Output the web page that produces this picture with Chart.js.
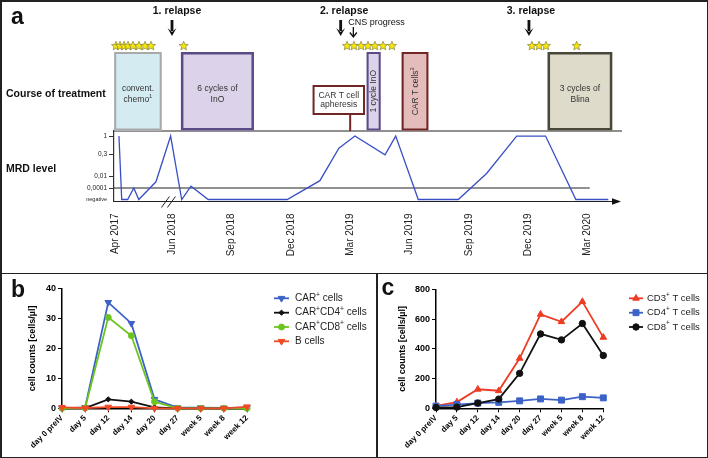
<!DOCTYPE html>
<html><head><meta charset="utf-8">
<script src="https://cdn.jsdelivr.net/npm/chart.js@4.4.1/dist/chart.umd.min.js"></script>
<style>
html,body{margin:0;padding:0;background:#fff;}
#fig{position:relative;width:708px;height:458px;overflow:hidden;background:#fff;}
#fig canvas{position:absolute;}
.rule{position:absolute;background:#222;}
</style></head><body>
<div id="fig">
<canvas id="ca" width="708" height="273" style="left:0;top:0"></canvas>
<canvas id="cb" width="377" height="185" style="left:0;top:273px"></canvas>
<canvas id="cc" width="331" height="185" style="left:377px;top:273px"></canvas>
<div class="rule" style="left:0;top:0;width:708px;height:1.5px"></div>
<div class="rule" style="left:0;top:456.5px;width:708px;height:1.5px"></div>
<div class="rule" style="left:0;top:0;width:1.5px;height:458px"></div>
<div class="rule" style="left:706.5px;top:0;width:1.5px;height:458px"></div>
<div class="rule" style="left:0;top:272.5px;width:708px;height:1.5px"></div>
<div class="rule" style="left:376px;top:273px;width:1.5px;height:185px"></div>
</div>
<script>
// ===================== DATA =====================
// Panel a: MRD course (x = months relative to Jun 2018, the period before the axis break is compressed)
const mrdMonths = [-2.68,-2.54,-2.24,-1.93,-1.68,-0.81,-0.07,0.49,0.96,1.83,5.82,7.47,8.43,9.24,10.76,11.3,12.44,14.46,15.89,17.41,18.87,20.4,22.04];
const mrdValues = [1,0,0,0.0001,0,0.0011,1,0,0.0002,0,0,0.0017,0.45,1,0.28,1,0,0,0.015,1,1,0,0]; // 0 = negative
const mrdTickValues = [0,0.0001,0.01,0.3,1];
const mrdTickLabels = ['negative','0,0001','0,01','0,3','1'];
const mrdThreshold = 0.0001;
const mrdThresholdEnd = 21.1;
const dateTickMonths = [-2.85,0,3,6,9,12,15,18,21];
const dateTickLabels = ['Apr 2017','Jun 2018','Sep 2018','Dec 2018','Mar 2019','Jun 2019','Sep 2019','Dec 2019','Mar 2020'];
const treatmentNames = ['convent.\nchemo¹','6 cycles of\nInO','1 cycle InO','CAR T cells²','3 cycles of\nBlina'];
const treatmentStart = [-2.92,0.45,9.83,11.6,18.97];
const treatmentEnd = [-0.52,4.14,10.54,12.95,22.24];
const apheresisName = 'CAR T cell\napheresis';
const apheresisMonth = 9.0;
const starMonths = [-2.83,-2.63,-2.42,-2.22,-1.97,-1.67,-1.36,-1.06,0.59,
                    8.84,9.19,9.55,9.9,10.25,10.66,11.11,18.18,18.54,18.89,20.44];
const relapseLabels = ['1. relapse','2. relapse','3. relapse'];
const relapseMonths = [0,8.52,18.03];
const cnsLabel = 'CNS progress';
const cnsMonth = 9.16;
const breakMonth = -0.18;

// Panels b and c
const categories = ['day 0 preIV','day 5','day 12','day 14','day 20','day 27','week 5','week 8','week 12'];
const carCells    = [0, 0.3, 35.3, 28.3, 3.0, 0.2, 0.2, 0.1, 0.2];
const carCd4Cells = [0, 0.1, 3.0, 2.2, 0.3, 0, 0, 0, 0];
const carCd8Cells = [0, 0.1, 30.3, 24.2, 2.2, 0, 0, 0, 0];
const bCells      = [0.3, 0.1, 0.4, 0.4, 0, 0, 0, 0, 0.5];
const cd3Cells = [17, 42, 128, 118, 336, 632, 582, 717, 477];
const cd4Cells = [15, 25, 35, 40, 50, 63, 55, 78, 70];
const cd8Cells = [5, 8, 35, 62, 235, 500, 460, 570, 355];

// ===================== STYLE / HELPERS =====================
const FAM = "'Liberation Sans', Arial, Helvetica, sans-serif";
const SUP = {'⁺':'+','¹':'1','²':'2'};
function runs(text){
  const out=[]; let cur='', sup=false;
  for (const ch of text){
    const s = ch in SUP;
    if (s!==sup && cur){ out.push({t:cur,sup}); cur=''; }
    sup = s; cur += s ? SUP[ch] : ch;
  }
  if (cur) out.push({t:cur,sup});
  return out;
}
function richWidth(ctx,text,size,weight){
  let w=0;
  for (const r of runs(text)){ ctx.font = `${weight} ${r.sup?size*0.68:size}px ${FAM}`; w += ctx.measureText(r.t).width; }
  return w;
}
function drawRich(ctx,text,x,y,size,weight,align){
  const w = richWidth(ctx,text,size,weight);
  let cx = align==='center' ? x-w/2 : align==='right' ? x-w : x;
  ctx.textAlign='left'; ctx.textBaseline='middle';
  for (const r of runs(text)){
    ctx.font = `${weight} ${r.sup?size*0.68:size}px ${FAM}`;
    ctx.fillText(r.t, cx, r.sup ? y-size*0.35 : y);
    cx += ctx.measureText(r.t).width;
  }
}
function drawStar(ctx,cx,cy,R,r){
  ctx.beginPath();
  for (let i=0;i<10;i++){
    const a=-Math.PI/2+i*Math.PI/5, rad=i%2?r:R;
    ctx.lineTo(cx+rad*Math.cos(a), cy+rad*Math.sin(a));
  }
  ctx.closePath(); ctx.fill(); ctx.stroke();
}
function thickArrow(ctx,x,y0,y1){
  ctx.fillStyle='#111';
  ctx.fillRect(x-1.4,y0,2.8,y1-y0-5);
  ctx.beginPath(); ctx.moveTo(x-4.5,y1-8); ctx.lineTo(x,y1-4); ctx.lineTo(x+4.5,y1-8); ctx.lineTo(x,y1); ctx.closePath(); ctx.fill();
}

// ---- MRD axis: piecewise log mapping between tick anchors ----
const ANCHOR_POS = [0,1,2.04,3.93,5.52];
function mrdAxis(v){
  if (v<=0) return 0;
  const L=Math.log10(v);
  for (let i=1;i<mrdTickValues.length-1;i++){
    if (v<=mrdTickValues[i+1] || i===mrdTickValues.length-2){
      const a=Math.log10(mrdTickValues[i]), b=Math.log10(mrdTickValues[i+1]);
      return ANCHOR_POS[i]+(L-a)/(b-a)*(ANCHOR_POS[i+1]-ANCHOR_POS[i]);
    }
  }
}

const treatmentStyle = [
  {fill:'#d4ecf1', stroke:'#a9a9a9', lw:2,   vertical:false},
  {fill:'#dcd3ea', stroke:'#5a4a86', lw:2.5, vertical:false},
  {fill:'#dcd3ea', stroke:'#5a4a86', lw:2,   vertical:true},
  {fill:'#e3bcbb', stroke:'#702626', lw:2,   vertical:true},
  {fill:'#dedbca', stroke:'#48473a', lw:2.5, vertical:false}
];
const apheresisBox = {from:7.1, to:9.75, top:85, bottom:115};

const timelinePlugin = {
  id:'timeline',
  afterDraw(chart){
    const {ctx, chartArea:ca, scales:{x}} = chart;
    ctx.save();
    // panel letter and row labels
    ctx.fillStyle='#111';
    ctx.font=`bold 23px ${FAM}`; ctx.textAlign='left'; ctx.textBaseline='alphabetic';
    ctx.fillText('a',11,23.5);
    ctx.font=`bold 10.5px ${FAM}`; ctx.textBaseline='middle';
    ctx.fillText('Course of treatment',6,94);
    ctx.fillText('MRD level',6,169);
    // treatment baseline
    ctx.strokeStyle='#222'; ctx.lineWidth=1.2;
    ctx.beginPath(); ctx.moveTo(ca.left-1,ca.top); ctx.lineTo(ca.right+1,ca.top); ctx.stroke();
    // x axis with arrow
    ctx.beginPath(); ctx.moveTo(ca.left,ca.bottom); ctx.lineTo(ca.right-6,ca.bottom); ctx.stroke();
    ctx.fillStyle='#111';
    ctx.beginPath(); ctx.moveTo(ca.right-9,ca.bottom-3.2); ctx.lineTo(ca.right,ca.bottom); ctx.lineTo(ca.right-9,ca.bottom+3.2); ctx.closePath(); ctx.fill();
    // axis break
    const bx=x.getPixelForValue(breakMonth);
    ctx.strokeStyle='#222'; ctx.lineWidth=1;
    for (const d of [-3,3]){
      ctx.beginPath(); ctx.moveTo(bx+d-4,ca.bottom+6); ctx.lineTo(bx+d+4,ca.bottom-5); ctx.stroke();
    }
    // treatment boxes
    const boxTop=52, boxBottom=ca.top-0.5;
    treatmentNames.forEach((name,i)=>{
      const st=treatmentStyle[i];
      const x0=x.getPixelForValue(treatmentStart[i]), x1=x.getPixelForValue(treatmentEnd[i]);
      ctx.fillStyle=st.fill; ctx.fillRect(x0,boxTop,x1-x0,boxBottom-boxTop);
      ctx.strokeStyle=st.stroke; ctx.lineWidth=st.lw;
      ctx.strokeRect(x0+st.lw/2,boxTop+st.lw/2,x1-x0-st.lw,boxBottom-boxTop-st.lw);
      ctx.fillStyle='#333';
      const cx=(x0+x1)/2, cy=(boxTop+boxBottom)/2;
      if (st.vertical){
        ctx.save(); ctx.translate(cx+0.5,cy); ctx.rotate(-Math.PI/2);
        drawRich(ctx,name,0,0,8.5,'normal','center'); ctx.restore();
      } else {
        const lines=name.split('\n');
        lines.forEach((ln,k)=>drawRich(ctx,ln,cx,cy+2.5+(k-(lines.length-1)/2)*11,8.5,'normal','center'));
      }
    });
    // apheresis label box + connector
    const ax=x.getPixelForValue(apheresisMonth);
    ctx.strokeStyle='#702626'; ctx.lineWidth=2;
    ctx.beginPath(); ctx.moveTo(ax,apheresisBox.bottom); ctx.lineTo(ax,ca.top); ctx.stroke();
    const a0=x.getPixelForValue(apheresisBox.from), a1=x.getPixelForValue(apheresisBox.to);
    ctx.fillStyle='#fff'; ctx.fillRect(a0,apheresisBox.top,a1-a0,apheresisBox.bottom-apheresisBox.top);
    ctx.strokeRect(a0+1,apheresisBox.top+1,a1-a0-2,apheresisBox.bottom-apheresisBox.top-2);
    ctx.fillStyle='#333';
    apheresisName.split('\n').forEach((ln,k)=>drawRich(ctx,ln,(a0+a1)/2,95.5+k*9.5,8.5,'normal','center'));
    // stars
    ctx.fillStyle='#f4e60a'; ctx.strokeStyle='#8a8440'; ctx.lineWidth=0.7;
    starMonths.forEach(m=>drawStar(ctx,x.getPixelForValue(m),46,4.8,2.1));
    // relapse arrows
    relapseMonths.forEach((m,i)=>{
      const px=x.getPixelForValue(m);
      thickArrow(ctx,px,20,36);
      ctx.fillStyle='#111'; ctx.font=`bold 10.5px ${FAM}`; ctx.textAlign='center'; ctx.textBaseline='middle';
      ctx.fillText(relapseLabels[i],px+(i===0?5:i===1?3.5:2),11);
    });
    // CNS progress arrow
    const cx=x.getPixelForValue(cnsMonth);
    ctx.strokeStyle='#111'; ctx.lineWidth=1.3;
    ctx.beginPath(); ctx.moveTo(cx,27); ctx.lineTo(cx,37); ctx.moveTo(cx-3.5,32.5); ctx.lineTo(cx,37); ctx.lineTo(cx+3.5,32.5); ctx.stroke();
    ctx.fillStyle='#111'; ctx.font=`9px ${FAM}`; ctx.textAlign='left'; ctx.textBaseline='middle';
    ctx.fillText(cnsLabel,cx-5,22.5);
    ctx.restore();
  }
};

new Chart(document.getElementById('ca'),{
  type:'line',
  data:{datasets:[
    {label:'MRD', data:mrdMonths.map((m,i)=>({x:m,y:mrdAxis(mrdValues[i])})),
     borderColor:'#3b4fc4', borderWidth:1.3, pointRadius:0, tension:0, clip:false},
    {label:'threshold', data:[{x:-2.93,y:mrdAxis(mrdThreshold)},{x:mrdThresholdEnd,y:mrdAxis(mrdThreshold)}],
     borderColor:'#222', borderWidth:1, pointRadius:0, clip:false}
  ]},
  options:{
    responsive:false, animation:false,
    layout:{padding:{top:131,right:87,left:0,bottom:0}},
    plugins:{legend:{display:false},tooltip:{enabled:false}},
    scales:{
      x:{type:'linear', min:-2.93, max:22.68,
        afterBuildTicks:s=>{s.ticks=dateTickMonths.map(v=>({value:v}));},
        afterFit:s=>{s.height=71.5;},
        grid:{display:false}, border:{display:false},
        ticks:{autoSkip:false, minRotation:90, maxRotation:90, padding:4, color:'#222',
          font:{family:FAM,size:10}, callback:(v,i)=>dateTickLabels[i]}},
      y:{type:'linear', min:-0.174, max:5.96,
        afterBuildTicks:s=>{s.ticks=ANCHOR_POS.map(v=>({value:v}));},
        afterFit:s=>{s.width=114;},
        grid:{drawOnChartArea:false, drawTicks:true, tickLength:5,
          color:c=>c.index===0?'rgba(0,0,0,0)':'#333', lineWidth:1},
        border:{display:true,color:'#333',width:1.2},
        ticks:{padding:2, color:'#222', autoSkip:false,
          font:c=>({family:FAM,size:c.index===0?5.5:6.5}),
          callback:(v,i)=>mrdTickLabels[i]}}
    }
  },
  plugins:[timelinePlugin]
});

// ---- Panels b and c ----
function legendPlugin(letter,letterX,letterY,lx,lineLen,tx,rows,fs){
  return {id:'leg'+letter, afterDraw(chart){
    const ctx=chart.ctx; ctx.save();
    ctx.fillStyle='#111'; ctx.font=`bold 23px ${FAM}`; ctx.textAlign='left'; ctx.textBaseline='alphabetic';
    ctx.fillText(letter,letterX,letterY);
    chart.data.datasets.forEach((ds,i)=>{
      const y=rows[i];
      ctx.strokeStyle=ds.borderColor; ctx.lineWidth=1.8;
      ctx.beginPath(); ctx.moveTo(lx,y); ctx.lineTo(lx+lineLen,y); ctx.stroke();
      ctx.fillStyle=ds.pointBackgroundColor; ctx.strokeStyle=ds.borderColor; ctx.lineWidth=1;
      Chart.helpers.drawPoint(ctx,{pointStyle:ds.pointStyle,radius:ds.pointRadius,rotation:ds.pointRotation||0,borderWidth:1},lx+lineLen/2,y);
      ctx.fillStyle='#222';
      drawRich(ctx,ds.label,tx,y,fs,'normal','left');
    });
    ctx.restore();
  }};
}
function ds(label,data,color,style,radius,rot,order){
  return {label,data,borderColor:color,backgroundColor:color,pointBackgroundColor:color,pointBorderColor:color,
    pointStyle:style,pointRadius:radius,pointRotation:rot,pointBorderWidth:1,borderWidth:1.8,tension:0,clip:false,order};
}
function cellOptions(yMax,step,leftW,padRight,padTop,titlePad){
  return {
    responsive:false, animation:false,
    layout:{padding:{top:padTop,right:padRight,left:0,bottom:0}},
    plugins:{legend:{display:false},tooltip:{enabled:false}},
    scales:{
      x:{offset:false, afterFit:s=>{s.height=49.7;},
        grid:{display:true,drawOnChartArea:false,drawTicks:true,tickLength:4,color:'#000',lineWidth:1},
        border:{display:true,color:'#000',width:1.5},
        ticks:{autoSkip:false,minRotation:45,maxRotation:45,padding:1,color:'#000',font:{family:FAM,size:8,weight:'bold'}}},
      y:{min:0,max:yMax,afterFit:s=>{s.width=leftW;},
        grid:{display:true,drawOnChartArea:false,drawTicks:true,tickLength:4,color:'#000',lineWidth:1},
        border:{display:true,color:'#000',width:1.5},
        ticks:{stepSize:step,padding:2,color:'#000',font:{family:FAM,size:9,weight:'bold'}},
        title:{display:true,text:'cell counts [cells/µl]',color:'#000',padding:{top:titlePad,bottom:0},
          font:{family:FAM,size:9,weight:'bold'}}}
    }
  };
}
new Chart(document.getElementById('cb'),{
  type:'line',
  data:{labels:categories,datasets:[
    ds('CAR⁺ cells',carCells,'#3c62c8','triangle',3.8,180,3),
    ds('CAR⁺CD4⁺ cells',carCd4Cells,'#111111','rectRot',2.6,0,2),
    ds('CAR⁺CD8⁺ cells',carCd8Cells,'#6cc51e','circle',3,0,1),
    ds('B cells',bCells,'#ee4a25','triangle',3.8,180,0)
  ]},
  options:cellOptions(40,10,62,130,15.3,27.3),
  plugins:[legendPlugin('b',11,23.7,274,15,295,[25.3,39.7,54,68.3],10)]
});
new Chart(document.getElementById('cc'),{
  type:'line',
  data:{labels:categories,datasets:[
    ds('CD3⁺ T cells',cd3Cells,'#ee3b24','triangle',3.8,0,2),
    ds('CD4⁺ T cells',cd4Cells,'#3c62c8','rect',4.2,0,1),
    ds('CD8⁺ T cells',cd8Cells,'#111111','circle',3.2,0,0)
  ]},
  options:cellOptions(800,200,59,104.7,16.3,20),
  plugins:[legendPlugin('c',4.5,22,252,14,270,[25.3,39.7,54],9.5)]
});
</script>
</body></html>
